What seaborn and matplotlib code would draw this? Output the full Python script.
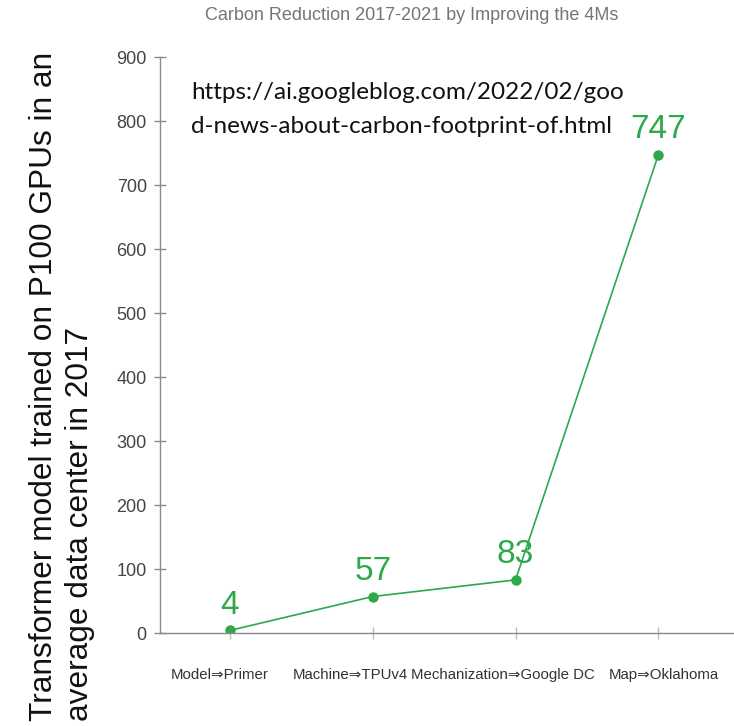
import matplotlib
matplotlib.use("Agg")
import matplotlib.pyplot as plt
import matplotlib.transforms as mtransforms
import seaborn as sns
import pandas as pd

# Carbon footprint reduction, one step per "M"
steps = ["Model\u21d2Primer", "Machine\u21d2TPUv4", "Mechanization\u21d2Google DC", "Map\u21d2Oklahoma"]
reduction = [4, 57, 83, 747]
y_ticks = [0, 100, 200, 300, 400, 500, 600, 700, 800, 900]

title = "Carbon Reduction 2017-2021 by Improving the 4Ms"
y_title = "Transformer model trained on P100 GPUs in an\naverage data center in 2017"
source = "https://ai.googleblog.com/2022/02/goo\nd-news-about-carbon-footprint-of.html"

GREEN = "#2ea84a"
AXIS = "#8a8a8a"

sns.set_theme(style="white")
plt.rcParams["font.family"] = ["Liberation Sans", "DejaVu Sans"]

W, H = 734, 726
fig = plt.figure(figsize=(W / 100, H / 100), dpi=100)
ax = fig.add_axes([160 / W, 1 - 633 / H, (W - 160) / W, (633 - 57) / H])

df = pd.DataFrame({"step": list(range(len(steps))), "reduction": reduction})
sns.lineplot(data=df, x="step", y="reduction", ax=ax, color=GREEN, linewidth=1.2,
             marker="o", markersize=7.5, markeredgewidth=0, markerfacecolor=GREEN)

for i, v in enumerate(reduction):
    ax.annotate(str(v), (i, v), xytext=(0, 7), textcoords="offset points",
                ha="center", va="bottom", color=GREEN, fontsize=24)

ax.set_xlim(-0.49, 3.53)
ax.set_ylim(0, 900)
ax.set_yticks(y_ticks)
ax.set_xticks(range(len(steps)))
ax.set_xticklabels(steps)
ax.set_xlabel("")
ax.set_ylabel("")

for side in ("top", "right"):
    ax.spines[side].set_visible(False)
for side in ("left", "bottom"):
    ax.spines[side].set_color(AXIS)
    ax.spines[side].set_linewidth(1.0)

ax.tick_params(axis="y", direction="inout", length=9, width=1, color=AXIS,
               labelsize=13, labelcolor="#444444", pad=5)
ax.tick_params(axis="x", direction="inout", length=9, width=1, color="#bbbbbb",
               labelsize=10.8, labelcolor="#333333", pad=21)
ax.tick_params(left=True, bottom=True)

# category labels are nudged sideways so the long ones do not collide
label_shift_px = [-10, -22, -13, 5]
for lab, dx in zip(ax.get_xticklabels(), label_shift_px):
    lab.set_transform(lab.get_transform() +
                      mtransforms.ScaledTranslation(dx / 100, 0, fig.dpi_scale_trans))

fig.text(412 / W, 1 - 16 / H, title, ha="center", va="center",
         fontsize=13, color="#757575")

fig.text(191 / W, 1 - 133 / H, source, ha="left", va="baseline",
         fontsize=17.5, color="#111111", family=["Lato", "DejaVu Sans"],
         linespacing=1.75)

fig.text(62 / W, 1 - 721 / H, y_title, rotation=90, ha="center", va="bottom",
         multialignment="left", fontsize=22.8, color="#111111", linespacing=1.25)

fig.savefig("out.png", dpi=100)
